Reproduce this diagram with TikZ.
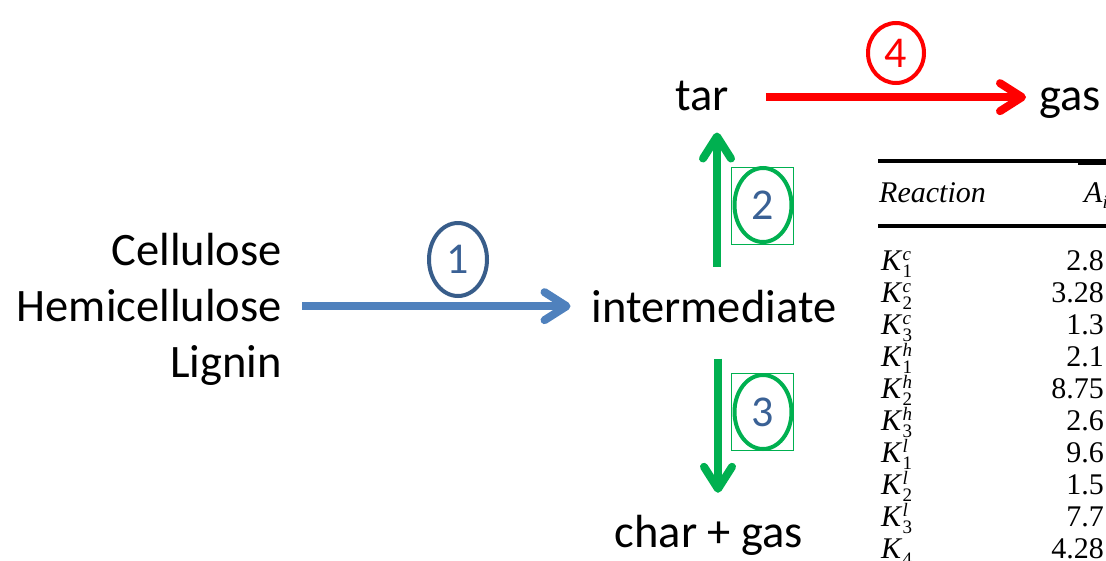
\documentclass[tikz,border=0pt]{standalone}
\usepackage{fontspec}
\setmainfont{Carlito}
\newfontfamily\tabfont{Liberation Serif}
\usetikzlibrary{arrows.meta,calc,shapes.geometric}

\definecolor{accblue}{HTML}{4F81BD}
\definecolor{ringblue}{HTML}{385D8A}
\definecolor{numblue}{HTML}{3A6195}
\definecolor{accgreen}{HTML}{00B050}
\definecolor{accred}{HTML}{FF0000}

% rate constant K with a superscript (component) and a subscript (reaction)
\newcommand{\rk}[2]{\textit{K}\rlap{\raisebox{10pt}{\fontsize{19}{19}\selectfont\textit{#1}}}\raisebox{-7pt}{\fontsize{19}{19}\selectfont #2}}

\begin{document}
\begin{tikzpicture}[x=1pt,y=-1pt,
  lbl/.style={inner sep=0pt, font=\fontsize{46.5}{56}\selectfont, text height=35pt, text depth=9.3pt},
  flow/.style={line width=8pt, -{Straight Barb[length=22pt,width=28pt,round]}},
  ring/.style={ellipse, draw, line width=4pt, inner sep=0pt, font=\fontsize{44}{44}\selectfont, text=numblue},
  selbox/.style={draw=accgreen, line width=1.5pt, inner sep=0pt, minimum width=62pt, minimum height=77pt},
  tab/.style={inner sep=0pt, font=\tabfont\fontsize{30}{32}\selectfont},
  rule/.style={line width=3.5pt}]
\useasboundingbox (0,0) rectangle (1106,560);
\fill[white] (0,0) rectangle (1106,560);
\begin{scope}
\clip (0,0) rectangle (1106,560);

% species
\node[lbl, anchor=base east] (cell) at (282,265) {Cellulose};
\node[lbl, anchor=base east] (hemi) at (282,321) {Hemicellulose};
\node[lbl, anchor=base east] (lig) at (282,377) {Lignin};
\node[lbl, anchor=base] (inter) at (714,322) {intermediate};
\node[lbl, anchor=base] (tar) at (702,110) {tar};
\node[lbl, anchor=base west] (gas) at (1039,110) {gas};
\node[lbl, anchor=base] (chg) at (709,547) {char + gas};

% reaction paths
\draw[flow, accblue] ($(hemi.east)+(20,-2)$) -- ($(hemi.east -| inter.west)+(-21,-2)$);
\draw[flow, accred] ($(tar.east)+(37,0)$) -- ($(tar.east -| gas.west)+(-13,0)$);
\draw[flow, accgreen] ($(inter.north)+(3,-20)$) -- ($(inter.north |- tar.south)+(3,13)$);
\draw[flow, accgreen] ($(inter.south)+(4,27)$) -- ($(inter.south |- chg.north)+(4,-19)$);

% reaction numbers
\node[ring, draw=ringblue, minimum width=58pt, minimum height=73pt] (r1) at (458,259.5) {1};
\node[selbox] (b2) at (762.5,206) {};
\node[ring, draw=accgreen, minimum width=57pt, minimum height=74pt] (r2) at (763,205) {2};
\node[selbox] (b3) at (762.5,412) {};
\node[ring, draw=accgreen, minimum width=57pt, minimum height=74pt] (r3) at (763,412) {3};
\node[ring, draw=accred, text=accred, minimum width=56pt, minimum height=60pt] (r4) at (896,53) {4};

% kinetic parameter table
\draw[rule] (878,161) -- (1106,161);
\draw[line width=5pt] (1078,162.5) -- (1106,162.5);
\draw[rule] (878,226) -- (1106,226);
\node[tab, anchor=base west] (hdr) at (879,202.7) {\textit{Reaction}};
\node[tab, anchor=base west] (hdrA) at (1084,202.7) {\textit{A}\raisebox{-6pt}{\fontsize{19}{19}\selectfont\textit{i}}};
\foreach \sa/\sb/\vv [count=\i from 0] in {c/1/2.8, c/2/3.28, c/3/1.3, h/1/2.1, h/2/8.75, h/3/2.6, l/1/9.6, l/2/1.5, l/3/7.7}{
  \node[tab, anchor=base west] (k\i) at (881,{270+32*\i}) {\rk{\sa}{\sb}};
  \node[tab, anchor=base east] (v\i) at (1104,{270+32*\i}) {\vv};
}
\node[tab, anchor=base west] (k9) at (881,558) {\textit{K}\raisebox{-7pt}{\fontsize{19}{19}\selectfont 4}};
\node[tab, anchor=base east] (v9) at (1104,558) {4.28};
\end{scope}
\end{tikzpicture}
\end{document}
